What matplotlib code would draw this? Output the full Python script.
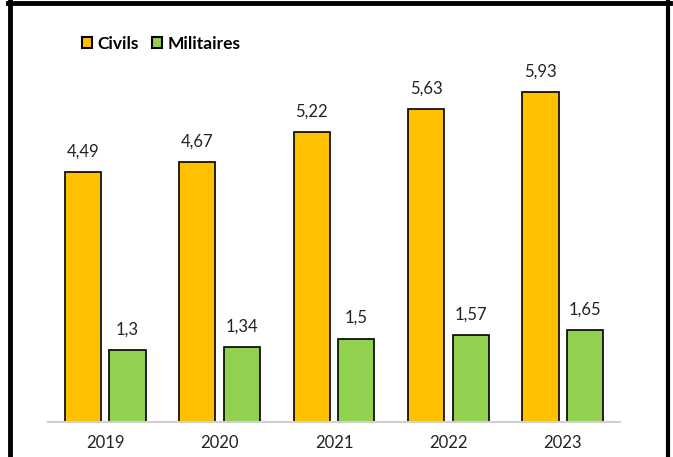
import matplotlib
matplotlib.use("Agg")
import matplotlib.pyplot as plt
from matplotlib.lines import Line2D
from matplotlib.patches import Patch
import numpy as np

years = ["2019", "2020", "2021", "2022", "2023"]
civils = [4.49, 4.67, 5.22, 5.63, 5.93]
militaires = [1.3, 1.34, 1.5, 1.57, 1.65]
civils_labels = ["4,49", "4,67", "5,22", "5,63", "5,93"]
militaires_labels = ["1,3", "1,34", "1,5", "1,57", "1,65"]

plt.rcParams['font.family'] = ['Lato', 'DejaVu Sans']

W, H = 673, 457
fig = plt.figure(figsize=(W / 100, H / 100), dpi=100)
ax_left, ax_right = 48, 620
ax_bottom, ymax = 422, 7.0
ppu = 55.6
ax_top = ax_bottom - ymax * ppu
ax = fig.add_axes([ax_left / W, (H - ax_bottom) / H, (ax_right - ax_left) / W, (ax_bottom - ax_top) / H])

x = np.arange(len(years))
w = 0.315
off = 0.195
orange = "#FFC000"
green = "#92D050"
ax.bar(x - off, civils, w, color=orange, edgecolor="black", linewidth=1.2)
ax.bar(x + off, militaires, w, color=green, edgecolor="black", linewidth=1.2)

for xi, v, lab in zip(x, civils, civils_labels):
    ax.annotate(lab, (xi - off, v), xytext=(0, 9), textcoords="offset points",
                ha="center", va="bottom", fontsize=12, color="#222222")
for xi, v, lab in zip(x, militaires, militaires_labels):
    ax.annotate(lab, (xi + off, v), xytext=(0, 9), textcoords="offset points",
                ha="center", va="bottom", fontsize=12, color="#222222")

ax.set_xlim(-0.5, len(years) - 0.5)
ax.set_ylim(0, ymax)
ax.set_xticks(x)
ax.set_xticklabels(years, fontsize=12, color="#222222")
ax.tick_params(axis="x", length=0, pad=9)
ax.set_yticks([])
for s in ["top", "right", "left"]:
    ax.spines[s].set_visible(False)
ax.spines["bottom"].set_color("#D0D0D0")
ax.spines["bottom"].set_linewidth(1.5)

handles = [Patch(facecolor=orange, edgecolor="black", linewidth=1.5, label="Civils"),
           Patch(facecolor=green, edgecolor="black", linewidth=1.5, label="Militaires")]
leg = fig.legend(handles=handles, loc="center left", bbox_to_anchor=(82 / W, 1 - 44 / H),
                 ncol=2, frameon=False, prop={"weight": "bold", "size": 12.5},
                 handlelength=0.6, handleheight=0.6, handletextpad=0.3, columnspacing=0.75,
                 borderaxespad=0, borderpad=0)

# border lines
fig.add_artist(Line2D([10 / W, 10 / W], [0, 1 - 1 / H], color="black", linewidth=3.5, transform=fig.transFigure))
fig.add_artist(Line2D([667.5 / W, 667.5 / W], [0, 1 - 1 / H], color="black", linewidth=3.0, transform=fig.transFigure))
fig.add_artist(Line2D([8 / W, 669.5 / W], [1 - 3 / H, 1 - 3 / H], color="black", linewidth=3.5, transform=fig.transFigure))

fig.savefig("out.png", dpi=100)
